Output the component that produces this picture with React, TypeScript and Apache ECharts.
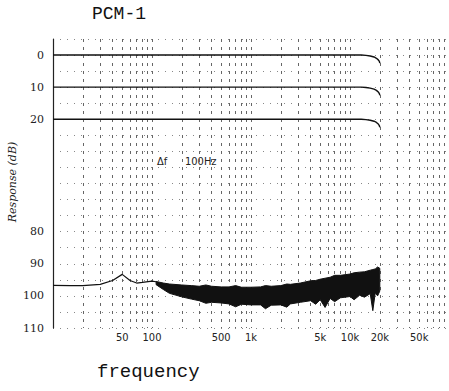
import React, { useEffect, useRef } from "react";
import * as echarts from "echarts";

// Frequency axis labels
const X_LABEL_VALUES = [50, 100, 500, 1000, 5000, 10000, 20000, 50000];
const X_LABEL_TEXT = ["50", "100", "500", "1k", "5k", "10k", "20k", "50k"];
const X_GRID_VALUES = [
  10, 20, 30, 40, 50, 60, 70, 80, 90,
  100, 200, 300, 400, 500, 600, 700, 800, 900,
  1000, 2000, 3000, 4000, 5000, 6000, 7000, 8000, 9000,
  10000, 20000, 30000, 40000, 50000, 60000, 70000, 80000, 90000, 100000,
];

// Response axis (broken scale: 0,10,20 then 80..110)
const Y_TICK_DB = [0, 10, 20, 80, 90, 100, 110];

// Frequency response at three levels
const LEVELS = [0, 10, 20];
const RESP_FREQ = [10, 13000, 14500, 16000, 17500, 18500, 19300, 19800, 20000];
const RESP_DROP = [0, 0, 0.1, 0.3, 0.6, 1.0, 1.5, 2.0, 2.5];

// Noise floor, low-frequency part (dB)
const LF_FREQ = [10, 15, 20, 30, 40, 50, 60, 70, 80, 100, 110];
const LF_DB = [96.7, 96.8, 96.8, 96.4, 95.2, 93.3, 95.2, 96.0, 95.8, 95.4, 95.6];

// Noise floor, dense band (upper and lower envelope, dB)
const BAND_FREQ = [110, 130, 150, 200, 250, 300, 350, 400, 500, 600, 700, 800, 1000, 1250, 1400, 1600, 2000, 2300, 2500, 3150, 4000, 4500, 5000, 5600, 6300, 7000, 8000, 10000, 11000, 12500, 14000, 16000, 17000, 18000, 19000, 20000];
const BAND_TOP = [95.5, 96.0, 96.3, 96.6, 96.8, 97.0, 96.6, 97.0, 97.2, 97.2, 96.8, 97.3, 97.3, 97.2, 96.8, 97.0, 96.8, 96.3, 96.4, 96.0, 95.3, 95.2, 94.8, 94.5, 94.2, 93.6, 93.6, 93.2, 92.8, 92.6, 92.5, 92.0, 91.8, 91.6, 91.0, 91.4];
const BAND_BOTTOM = [96.5, 98.0, 99.2, 100.3, 101.0, 101.5, 102.3, 102.0, 102.2, 102.5, 103.4, 102.6, 102.8, 102.8, 104.0, 102.9, 102.8, 103.5, 102.5, 102.0, 101.5, 102.6, 101.2, 103.6, 100.8, 101.8, 100.6, 100.2, 101.2, 99.8, 100.4, 99.3, 104.6, 99.0, 100.0, 98.5];

// broken axis: values from 80 dB upward are shifted up by 25 units
const toUnit = (db: number) => (db >= 50 ? db - 25 : db);

export default function App() {
  const ref = useRef<HTMLDivElement>(null);

  useEffect(() => {
    if (!ref.current) return;
    const chart = echarts.init(ref.current, undefined, { renderer: "svg" });

    const yLabelMap: Record<number, string> = {};
    Y_TICK_DB.forEach((d) => (yLabelMap[toUnit(d)] = String(d)));
    const xLabelMap: Record<number, string> = {};
    X_LABEL_VALUES.forEach((v, i) => (xLabelMap[v] = X_LABEL_TEXT[i]));

    const levelSeries = LEVELS.map((lv) => ({
      type: "line",
      name: `${lv} dB`,
      data: RESP_FREQ.map((f, i) => [f, toUnit(lv + RESP_DROP[i])]),
      showSymbol: false,
      lineStyle: { color: "#111", width: 1.4 },
      z: 5,
    }));

    const option: any = {
      animation: false,
      backgroundColor: "#fff",
      grid: { left: 53, right: 0, top: 39, bottom: 63, containLabel: false },
      xAxis: {
        type: "log",
        min: 10,
        max: 100000,
        logBase: 10,
        axisLine: { show: false },
        axisTick: { show: false, customValues: X_GRID_VALUES },
        axisLabel: {
          customValues: X_LABEL_VALUES,
          formatter: (v: number) => xLabelMap[Math.round(v)] ?? "",
          color: "#222",
          fontFamily: "DejaVu Sans Condensed, DejaVu Sans",
          fontSize: 11,
          margin: 4,
          showMinLabel: true,
          showMaxLabel: true,
        },
        splitLine: {
          show: true,
          customValues: X_GRID_VALUES,
          lineStyle: { color: "#666", width: 1, type: [3, 5] },
        },
      },
      yAxis: {
        type: "value",
        inverse: true,
        min: -5,
        max: 85,
        interval: 5,
        axisLine: { show: true, onZero: false, lineStyle: { color: "#222", width: 1.2 } },
        axisTick: { show: false },
        axisLabel: {
          formatter: (v: number) => yLabelMap[v] ?? "",
          color: "#222",
          fontFamily: "DejaVu Serif",
          fontSize: 11,
          margin: 9,
        },
        splitLine: {
          show: true,
          lineStyle: { color: "#888", width: 1, type: [1, 6] },
        },
      },
      series: [
        ...levelSeries,
        {
          type: "line",
          name: "noise LF",
          data: LF_FREQ.map((f, i) => [f, toUnit(LF_DB[i])]),
          showSymbol: false,
          lineStyle: { color: "#111", width: 1.2 },
          z: 5,
        },
        {
          type: "custom",
          name: "noise band",
          data: [[BAND_FREQ[0], toUnit(BAND_TOP[0])]],
          z: 4,
          renderItem: (_params: any, api: any) => {
            const upper = BAND_FREQ.map((f, i) => api.coord([f, toUnit(BAND_TOP[i])]));
            const lower = BAND_FREQ.map((f, i) => api.coord([f, toUnit(BAND_BOTTOM[i])])).reverse();
            return {
              type: "polygon",
              shape: { points: upper.concat(lower) },
              style: { fill: "#111", stroke: "#111", lineWidth: 1 },
            };
          },
        },
      ],
      graphic: [
        {
          type: "text",
          left: 92,
          top: 5,
          style: { text: "PCM-1", font: '18px "Liberation Mono"', fill: "#111" },
        },
        {
          type: "text",
          left: 97,
          top: 362,
          style: { text: "frequency", font: '19px "Liberation Mono"', fill: "#111" },
        },
        {
          type: "text",
          x: 12,
          y: 182,
          rotation: Math.PI / 2,
          style: {
            text: "Response (dB)",
            font: 'italic 11px "DejaVu Serif"',
            fill: "#222",
            textAlign: "center",
            textVerticalAlign: "middle",
          },
        },
        {
          type: "text",
          left: 157,
          top: 156,
          style: { text: "Δf", font: '11px "DejaVu Sans Condensed"', fill: "#222" },
        },
        {
          type: "text",
          left: 185,
          top: 156,
          style: { text: "100Hz", font: '11px "DejaVu Sans Condensed"', fill: "#222" },
        },
      ],
    };

    chart.setOption(option);
    return () => chart.dispose();
  }, []);

  return (
    <div
      ref={ref}
      style={{ position: "fixed", left: 0, top: 0, width: 449, height: 391, background: "#fff" }}
    />
  );
}
